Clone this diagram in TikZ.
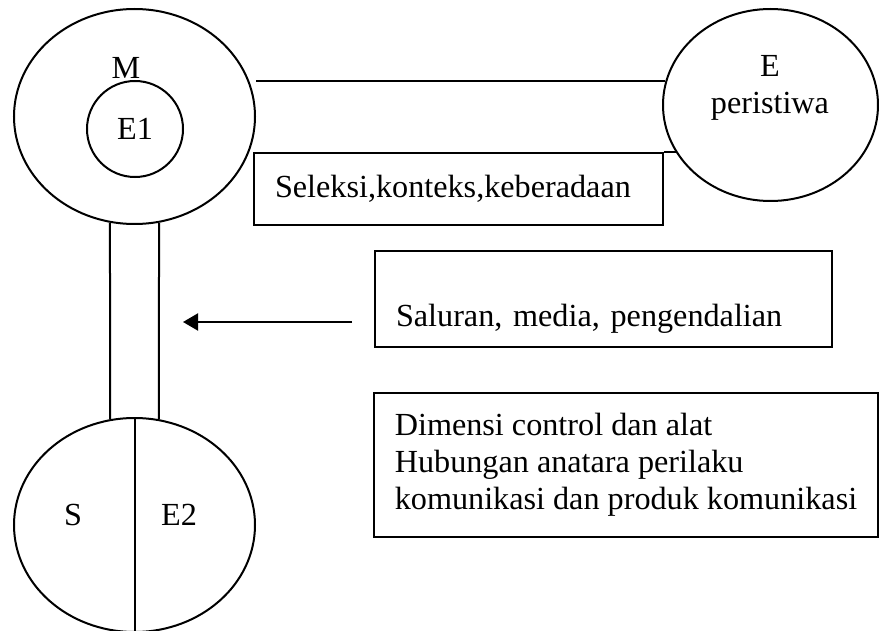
\documentclass[tikz,border=0pt]{standalone}
\usepackage{fontspec}
\setmainfont{Liberation Serif}
\usetikzlibrary{arrows.meta,positioning,calc,shapes.geometric}

\begin{document}
\begin{tikzpicture}[x=0.5pt,y=-0.5pt,line width=1pt,
  font=\fontsize{16.1}{18.5}\selectfont,
  oval/.style={ellipse,draw,inner sep=0pt},
  box/.style={rectangle,draw,inner xsep=10.5pt,inner ysep=0pt,align=left},
  arr/.style={-{Triangle[length=7.5pt,width=8.5pt]}},
]
  \useasboundingbox (0,0) rectangle (879,631);
  % ovals
  \node[oval,minimum width=120.5pt,minimum height=107.5pt] (M) at (134.5,116.5) {};
  \node[circle,draw,minimum size=48pt,inner sep=0pt] (E1) at (135,129) {E1};
  \node[above=0pt of E1,inner sep=0pt,xshift=-4.5pt] (Mlbl) {M};
  \node[oval,minimum width=107.5pt,minimum height=96pt] (E) at (770.5,105) {};
  \node[align=center] (Elbl) at (770,88) {E\\peristiwa};
  \node[oval,minimum width=120.5pt,minimum height=107pt] (S) at (134.5,525) {};
  \node (Slbl) at (73,515) {S};
  \node (E2lbl) at (179,515) {E2};
  % boxes
  \node[box,minimum width=204.5pt,minimum height=36pt,text width=183.5pt] (sel) at (458.5,189) {Seleksi,konteks,keberadaan};
  \node[box,minimum width=228.5pt,minimum height=48pt,text width=207.5pt] (sal) at (603.5,299) {\strut\\Saluran, media, pengendalian};
  \node[box,minimum width=252pt,minimum height=72pt,inner xsep=8pt] (dim) at (626,465) {Dimensi control dan alat\\Hubungan anatara perilaku\\komunikasi dan produk komunikasi};
  % links
  \draw (E.167) -- (E.167 -| M.east);
  \draw (sel.north east) -- (sel.north east -| E.207);
  \draw (M.257) -- (S.103);
  \draw (M.283) -- (S.77);
  \draw (S.north) -- (S.south);
  \coordinate (tail) at (352,322);
  \coordinate (tip) at (183,322);
  \draw[arr] (tail) -- (tip);
\end{tikzpicture}
\end{document}
